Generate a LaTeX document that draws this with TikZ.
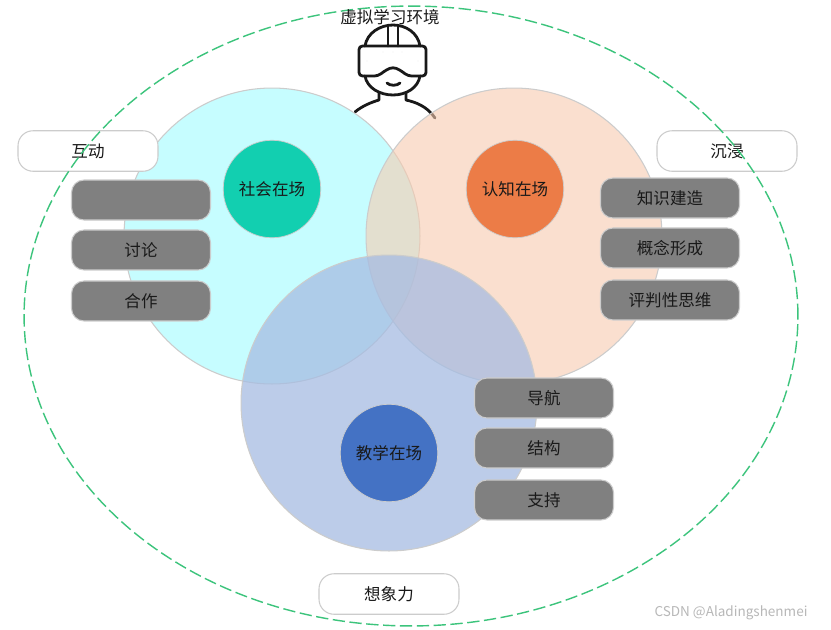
\documentclass[tikz,border=0pt]{standalone}
\usepackage{fontspec}
\setmainfont{Noto Sans CJK SC}
\usetikzlibrary{arrows.meta, positioning, shapes.geometric}

\definecolor{socialfill}{HTML}{C6FDFF}
\definecolor{cognitivefill}{HTML}{F7CBAF}
\definecolor{teachingfill}{HTML}{A6BCE2}
\definecolor{socialcorefill}{HTML}{12CFB0}
\definecolor{cognitivecorefill}{HTML}{EC7C47}
\definecolor{teachingcorefill}{HTML}{4472C4}
\definecolor{ringgreen}{HTML}{3CC47C}

\begin{document}
\begin{tikzpicture}[
  x=0.02cm, y=-0.02cm,
  every node/.style={font=\fontsize{9.4pt}{11pt}\selectfont, text=black!90, outer sep=0pt},
  bigcircle/.style={circle, draw=black!20, line width=0.6pt, minimum size=5.92cm, inner sep=0pt},
  corecircle/.style={circle, draw=black!20, line width=0.4pt, minimum size=1.95cm, inner sep=0pt},
  pill/.style={rounded corners=0.25cm, draw=black!20, line width=0.6pt, fill=black!50, minimum width=2.78cm, minimum height=0.8cm, inner sep=0pt},
  tagbox/.style={rounded corners=0.3cm, draw=black!20, line width=0.6pt, fill=white, minimum width=2.8cm, minimum height=0.81cm, inner sep=0pt},
  icon/.style={line width=1.6pt, black!90, line cap=round, line join=round}
]
\useasboundingbox (0,0) rectangle (831,629);
\fill[white] (0,0) rectangle (831,629);

% Figure
\draw[icon] (365,46) .. controls (367,33) and (380,25) .. (393,25) .. controls (406,25) and (418,33) .. (420,46);
\draw[icon] (388,26) -- (388,46);
\draw[icon] (398,26) -- (398,46);
\draw[icon, rounded corners=2pt] (359,46) -- (426,46) -- (426,76) -- (408,76) -- (400,70) -- (393,67) -- (386,70) -- (378,76) -- (359,76) -- cycle;
\foreach \dotx in {383,393,402} \fill[black!90] (\dotx,52) circle (0.03);
\foreach \dotx in {367,418} \fill[black!90] (\dotx,61) circle (0.03);
\draw[icon] (365,76) .. controls (367,88) and (380,95) .. (393,95) .. controls (406,95) and (418,88) .. (420,76);
\draw[icon] (387,83) .. controls (390,86) and (397,86) .. (400,83);
\draw[icon] (355,112) .. controls (362,106) and (372,102) .. (379,100) -- (379,93);
\draw[icon] (435,118) .. controls (427,106) and (415,102) .. (406,100) -- (406,93);

% Large circles
\node [bigcircle, fill=socialfill] (social) at (272,236) {};
\node [bigcircle, fill=cognitivefill, fill opacity=0.6] (cognitive) at (514,236) {};
\node [bigcircle, fill=teachingfill, fill opacity=0.75] (teaching) at (389,403) {};

% Core circles
\node [corecircle, fill=socialcorefill] (socialcore) at (272,189) {社会在场};
\node [corecircle, fill=cognitivecorefill] (cognitivecore) at (515,189) {认知在场};
\node [corecircle, fill=teachingcorefill] (teachingcore) at (389,453) {教学在场};

% Left list
\node [pill] (social1) at (141,200) {};
\node [pill, below=0.2cm of social1] (social2) {讨论};
\node [pill, below=0.22cm of social2] (social3) {合作};

% Right list
\node [pill] (cognitive1) at (670,198) {知识建造};
\node [pill, below=0.2cm of cognitive1] (cognitive2) {概念形成};
\node [pill, below=0.24cm of cognitive2] (cognitive3) {评判性思维};

% Bottom list
\node [pill] (teaching1) at (544,398) {导航};
\node [pill, below=0.2cm of teaching1] (teaching2) {结构};
\node [pill, below=0.24cm of teaching2] (teaching3) {支持};

% Tags
\node [tagbox] (interact) at (88,151) {互动};
\node [tagbox] (immerse) at (727,151) {沉浸};
\node [tagbox] (imagine) at (389,594) {想象力};

% Outer ring
\node [ellipse, draw=ringgreen, line width=0.8pt, dash pattern=on 7pt off 2.6pt, minimum width=15.48cm, minimum height=12.4cm, inner sep=0pt] (world) at (411,316) {};
\node (title) at (390,17) {虚拟学习环境};

\node [text=black!28, font=\fontsize{7.7pt}{10pt}\selectfont] (mark) at (731,613) {CSDN @Aladingshenmei};
\end{tikzpicture}
\end{document}
